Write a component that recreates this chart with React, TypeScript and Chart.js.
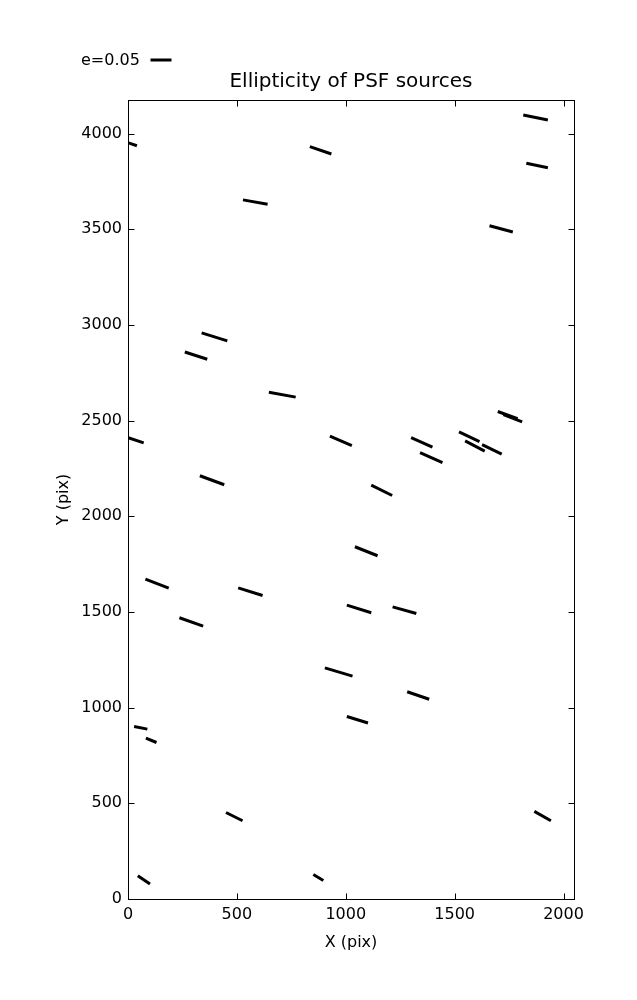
import React, { useEffect, useRef } from "react";
import { Chart, registerables } from "chart.js";

Chart.register(...registerables);

// Segment endpoints (image pixel coordinates of the PSF sources' ellipticity sticks)
const xStart = [-70, 835, 528, 1815, 1829, 1660, 338, 261, 647, -46, 927, 330, 1300, 1341, 1520, 1548, 1626, 1698, 1724, 1117, 80, 506, 236, 1005, 904, 1042, 1215, 1282, 28, 82, 450, 45, 851, 1005, 1866];
const yStart = [3979, 3932, 3654, 4098, 3845, 3519, 2959, 2859, 2649, 2429, 2419, 2212, 2412, 2333, 2441, 2394, 2375, 2548, 2532, 2163, 1672, 1626, 1470, 1536, 1208, 1841, 1527, 1083, 902, 841, 452, 122, 128, 954, 458];
const xEnd = [41, 934, 641, 1928, 1928, 1767, 456, 364, 770, 72, 1028, 442, 1398, 1444, 1614, 1638, 1716, 1789, 1810, 1213, 187, 618, 345, 1117, 1031, 1146, 1324, 1383, 89, 131, 526, 101, 897, 1102, 1942];
const yEnd = [3937, 3894, 3631, 4071, 3822, 3486, 2917, 2821, 2623, 2384, 2370, 2165, 2362, 2281, 2391, 2341, 2325, 2510, 2494, 2109, 1625, 1586, 1426, 1496, 1165, 1794, 1492, 1044, 888, 818, 409, 78, 97, 920, 409];

const xTicks = [0, 500, 1000, 1500, 2000];
const yTicks = [0, 500, 1000, 1500, 2000, 2500, 3000, 3500, 4000];
const xLimits = [0, 2048];
const yLimits = [0, 4176];

const titleText = "Ellipticity of PSF sources";
const xLabel = "X (pix)";
const yLabel = "Y (pix)";
const keyLabel = "e=0.05";

const FONT = "'DejaVu Sans'";

const framePlugin = {
  id: "mplFrame",
  afterDraw(chart: any) {
    const { ctx, chartArea: a, scales } = chart;
    ctx.save();
    ctx.strokeStyle = "#000";
    ctx.lineWidth = 1;
    const L = a.left + 0.5;
    const R = a.right + 0.5;
    const T = a.top + 0.5;
    const B = a.bottom + 0.5;
    ctx.strokeRect(L, T, R - L, B - T);
    const tl = 6;
    ctx.beginPath();
    for (const t of scales.x.ticks) {
      const px = Math.round(scales.x.getPixelForValue(t.value)) + 0.5;
      ctx.moveTo(px, B);
      ctx.lineTo(px, B - tl);
      ctx.moveTo(px, T);
      ctx.lineTo(px, T + tl);
    }
    for (const t of scales.y.ticks) {
      const py = Math.round(scales.y.getPixelForValue(t.value)) + 0.5;
      ctx.moveTo(L, py);
      ctx.lineTo(L + tl, py);
      ctx.moveTo(R, py);
      ctx.lineTo(R - tl, py);
    }
    ctx.stroke();

    // title
    ctx.fillStyle = "#000";
    ctx.font = `20px ${FONT}`;
    ctx.textAlign = "center";
    ctx.textBaseline = "alphabetic";
    ctx.fillText(titleText, (a.left + a.right) / 2, a.top - 13);

    // quiver key
    ctx.font = `16px ${FONT}`;
    ctx.textAlign = "left";
    ctx.fillText(keyLabel, 81, 65);
    ctx.lineWidth = 3;
    ctx.lineCap = "butt";
    ctx.beginPath();
    ctx.moveTo(150.5, 60);
    ctx.lineTo(171.5, 60);
    ctx.stroke();
    ctx.restore();
  },
};

export default function App() {
  const ref = useRef<HTMLCanvasElement | null>(null);

  useEffect(() => {
    if (!ref.current) return;
    const datasets = xStart.map((x0, i) => ({
      data: [
        { x: x0, y: yStart[i] },
        { x: xEnd[i], y: yEnd[i] },
      ],
      showLine: true,
      borderColor: "#000",
      backgroundColor: "#000",
      borderWidth: 3,
      borderCapStyle: "butt" as const,
      pointRadius: 0,
      pointHoverRadius: 0,
      fill: false,
    }));

    const chart = new Chart(ref.current, {
      type: "scatter",
      data: { datasets },
      plugins: [framePlugin],
      options: {
        animation: false,
        responsive: false,
        maintainAspectRatio: false,
        events: [],
        layout: { padding: { top: 100, right: 63, left: 0, bottom: 0 } },
        plugins: {
          legend: { display: false },
          title: { display: false },
          tooltip: { enabled: false },
        },
        scales: {
          x: {
            type: "linear",
            min: xLimits[0],
            max: xLimits[1],
            grid: { display: false, drawTicks: false },
            border: { display: false },
            afterBuildTicks: (s: any) => {
              s.ticks = xTicks.map((v) => ({ value: v }));
            },
            afterFit: (s: any) => {
              s.height = 101;
            },
            ticks: {
              padding: 6,
              color: "#000",
              font: { family: FONT, size: 16 },
              maxRotation: 0,
              autoSkip: false,
              callback: (v: any) => String(v),
            },
            title: {
              display: true,
              text: xLabel,
              color: "#000",
              font: { family: FONT, size: 16 },
              padding: { top: 0, bottom: 48 },
            },
          },
          y: {
            type: "linear",
            min: yLimits[0],
            max: yLimits[1],
            grid: { display: false, drawTicks: false },
            border: { display: false },
            afterBuildTicks: (s: any) => {
              s.ticks = yTicks.map((v) => ({ value: v }));
            },
            afterFit: (s: any) => {
              s.width = 128;
            },
            ticks: {
              padding: 6,
              color: "#000",
              font: { family: FONT, size: 16 },
              autoSkip: false,
              callback: (v: any) => String(v),
            },
            title: {
              display: true,
              text: yLabel,
              color: "#000",
              font: { family: FONT, size: 16 },
              padding: { top: 54, bottom: 0 },
            },
          },
        },
      } as any,
    });
    return () => chart.destroy();
  }, []);

  return (
    <div style={{ position: "fixed", left: 0, top: 0, width: 637, height: 1000, background: "#fff" }}>
      <canvas ref={ref} width={637} height={1000} style={{ display: "block", width: 637, height: 1000 }} />
    </div>
  );
}
